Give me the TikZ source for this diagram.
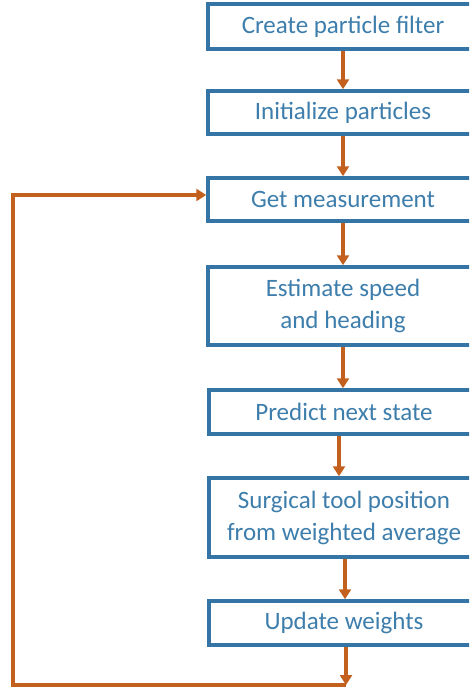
\documentclass[tikz,border=0pt]{standalone}
\usepackage{fontspec}
\setmainfont{Carlito}
\usetikzlibrary{arrows.meta}
\definecolor{boxblue}{RGB}{52,117,166}
\definecolor{txtblue}{RGB}{62,126,172}
\definecolor{flow}{RGB}{196,96,30}
\tikzset{
  stepbox/.style={draw=boxblue, line width=3.5pt, fill=white, rectangle,
    minimum width=270pt, align=center, text=txtblue,
    font=\fontsize{25}{32}\selectfont, inner sep=0pt},
  flowline/.style={draw=flow, line width=3.4pt, -{Triangle[length=10pt,width=12pt]}}
}
\begin{document}
\begin{tikzpicture}[x=1pt,y=-1pt]
  \useasboundingbox (0,0) rectangle (469,688);
  \clip (0,0) rectangle (469,688);
  % process steps
  \node[stepbox, minimum height=45pt] (create) at (343,26.5) {Create particle filter};
  \node[stepbox, minimum height=43pt] (init)   at (343,112.5) {Initialize particles};
  \node[stepbox, minimum height=43pt] (meas)   at (343,199.5) {Get measurement};
  \node[stepbox, minimum height=78pt] (est)    at (343,306) {Estimate speed\\and heading};
  \node[stepbox, minimum height=44pt] (pred)   at (344,412) {Predict next state};
  \node[stepbox, minimum height=79pt] (pos)    at (344,517.5) {Surgical tool position\\from weighted average};
  \node[stepbox, minimum height=44pt] (upd)    at (344,623) {Update weights};
  % loop-back corners
  \coordinate (loopend) at (346,685);
  \coordinate (loopleft) at (13,685);
  \coordinate (looptop) at (13,195);
  % forward flow
  \draw[flowline] (create.south) -- (init.north);
  \draw[flowline] (init.south) -- (meas.north);
  \draw[flowline] (meas.south) -- (est.north);
  \draw[flowline] (est.south) -- (est.south |- pred.north);
  \draw[flowline] ([xshift=-5pt]pred.south) -- ([xshift=-5pt]pos.north);
  \draw[flowline] ([xshift=1pt]pos.south) -- ([xshift=1pt]upd.north);
  \draw[flowline] ([xshift=2pt]upd.south) -- (loopend);
  % return to the measurement step
  \draw[flowline, line join=miter] (loopend) -- (loopleft) -- (looptop) -- (looptop -| meas.west);
\end{tikzpicture}
\end{document}
